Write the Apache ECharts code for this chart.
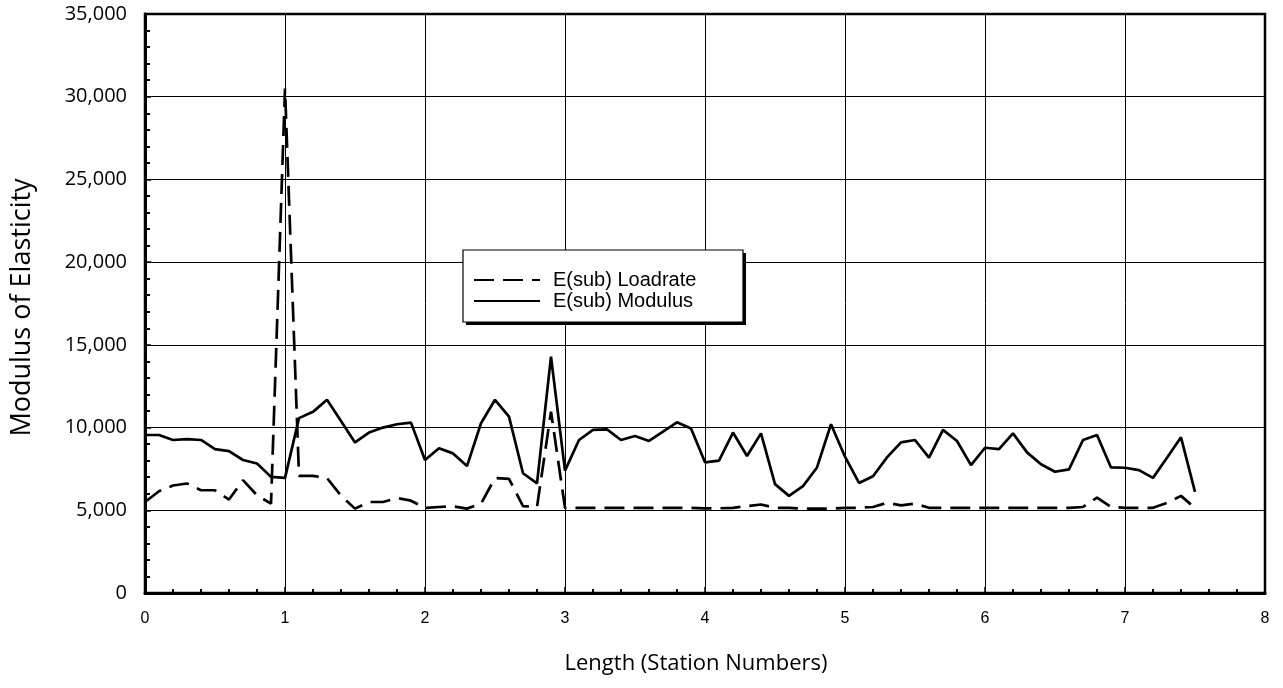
<!DOCTYPE html>
<html>
<head>
<meta charset="utf-8">
<script src="https://cdn.jsdelivr.net/npm/echarts@6/dist/echarts.min.js"></script>
<style>
  html, body { margin: 0; padding: 0; background: #fff; }
  #chart { width: 1283px; height: 688px; }
</style>
</head>
<body>
<div id="chart"></div>
<script>
// Station positions (Length, station numbers)
var station = [
  0.0, 0.1, 0.2, 0.3, 0.4, 0.5, 0.6, 0.7, 0.8, 0.9,
  1.0, 1.1, 1.2, 1.3, 1.4, 1.5, 1.6, 1.7, 1.8, 1.9,
  2.0, 2.1, 2.2, 2.3, 2.4, 2.5, 2.6, 2.7, 2.8, 2.9,
  3.0, 3.1, 3.2, 3.3, 3.4, 3.5, 3.6, 3.7, 3.8, 3.9,
  4.0, 4.1, 4.2, 4.3, 4.4, 4.5, 4.6, 4.7, 4.8, 4.9,
  5.0, 5.1, 5.2, 5.3, 5.4, 5.5, 5.6, 5.7, 5.8, 5.9,
  6.0, 6.1, 6.2, 6.3, 6.4, 6.5, 6.6, 6.7, 6.8, 6.9,
  7.0, 7.1, 7.2, 7.3, 7.4, 7.5
];

// E(sub) Loadrate (dashed)
var loadrate = [
  5500, 6150, 6500, 6620, 6210, 6210, 5650, 6820, 5910, 5400,
  30500, 7080, 7080, 6950, 5880, 5100, 5500, 5500, 5740, 5580,
  5140, 5200, 5240, 5100, 5400, 6950, 6900, 5250, 5200, 10960,
  5150, 5150, 5150, 5150, 5150, 5150, 5150, 5150, 5150, 5150,
  5120, 5120, 5150, 5250, 5350, 5150, 5150, 5100, 5100, 5100,
  5150, 5150, 5200, 5450, 5300, 5400, 5150, 5150, 5150, 5150,
  5150, 5150, 5150, 5150, 5150, 5150, 5150, 5200, 5770, 5200,
  5150, 5150, 5150, 5450, 5870, 5140
];

// E(sub) Modulus (solid)
var modulus = [
  9550, 9550, 9250, 9300, 9250, 8700, 8580, 8040, 7830, 7020,
  6960, 10570, 10950, 11680, 10400, 9100, 9700, 10000, 10200, 10300,
  8040, 8750, 8440, 7670, 10260, 11680, 10660, 7240, 6630, 14290,
  7400, 9250, 9860, 9890, 9250, 9490, 9190, 9760, 10320, 9940,
  7900, 8000, 9700, 8280, 9650, 6580, 5870, 6460, 7590, 10200,
  8240, 6650, 7060, 8200, 9110, 9250, 8180, 9860, 9190, 7730,
  8780, 8700, 9650, 8500, 7780, 7330, 7470, 9250, 9550, 7590,
  7570, 7430, 6960, 8180, 9410, 6110
];

var seriesNames = ['E(sub) Loadrate', 'E(sub) Modulus'];
var xTitle = 'Length (Station Numbers)';
var yTitle = 'Modulus of Elasticity';

function pairs(xs, ys) {
  var out = [];
  for (var i = 0; i < xs.length; i++) out.push([xs[i], ys[i]]);
  return out;
}
function commas(v) {
  return String(v).replace(/\B(?=(\d{3})+(?!\d))/g, ',');
}

var chart = echarts.init(document.getElementById('chart'), null, { renderer: 'canvas' });
chart.setOption({
  animation: false,
  backgroundColor: '#ffffff',
  grid: {
    left: 145, right: 18, top: 14, bottom: 95,
    show: true, borderColor: '#000', borderWidth: 2.5, backgroundColor: 'transparent'
  },
  graphic: [
    { type: 'rect', z: 20, shape: { x: 466, y: 253, width: 280, height: 72 },
      style: { fill: '#000', stroke: null } },
    { type: 'rect', z: 21, shape: { x: 463, y: 250, width: 280, height: 72 },
      style: { fill: '#fff', stroke: '#000', lineWidth: 1.2 } }
  ],
  legend: {
    orient: 'vertical',
    left: 473, top: 270,
    z: 30,
    data: seriesNames,
    padding: 0,
    itemWidth: 66,
    itemHeight: 14,
    itemGap: 1,
    itemStyle: { opacity: 0 },
    textStyle: {
      fontFamily: 'Liberation Sans, Arial, sans-serif',
      fontSize: 20,
      lineHeight: 20,
      color: '#000',
      padding: [0, 0, 0, 8]
    }
  },
  xAxis: {
    type: 'value',
    min: 0, max: 8, interval: 1,
    name: xTitle,
    nameLocation: 'middle',
    nameGap: 60,
    nameTextStyle: { fontFamily: 'Open Sans, sans-serif', fontSize: 22, color: '#000', padding: [0, 18, 0, 0] },
    axisLine: { show: true, onZero: false, lineStyle: { color: '#000', width: 3 } },
    axisTick: { show: true, inside: true, length: 6, lineStyle: { color: '#000', width: 1.5 } },
    minorTick: { show: true, splitNumber: 5, length: 4, lineStyle: { color: '#000', width: 2 } },
    axisLabel: { margin: 18, fontFamily: 'Liberation Sans, Arial, sans-serif', fontSize: 16, color: '#000' },
    splitLine: { show: true, lineStyle: { color: '#000', width: 1 } }
  },
  yAxis: {
    type: 'value',
    min: 0, max: 35000, interval: 5000,
    name: yTitle,
    nameLocation: 'middle',
    nameGap: 109,
    nameTextStyle: { fontFamily: 'Open Sans, sans-serif', fontSize: 27, color: '#000', padding: [0, 8, 0, 0] },
    axisLine: { show: true, onZero: false, lineStyle: { color: '#000', width: 3 } },
    axisTick: { show: true, inside: true, length: 6, lineStyle: { color: '#000', width: 1.5 } },
    minorTick: { show: true, splitNumber: 5, length: 5, lineStyle: { color: '#000', width: 2 } },
    axisLabel: {
      margin: 18,
      fontFamily: 'Open Sans, sans-serif', fontSize: 20, color: '#000',
      formatter: function (v) { return commas(v); }
    },
    splitLine: { show: true, lineStyle: { color: '#000', width: 1 } }
  },
  series: [
    {
      name: seriesNames[0],
      type: 'line',
      data: pairs(station, loadrate),
      symbol: 'none',
      showSymbol: false,
      lineStyle: { color: '#000', width: 2.7, type: [20, 9] },
      itemStyle: { color: '#000' },
      z: 3
    },
    {
      name: seriesNames[1],
      type: 'line',
      data: pairs(station, modulus),
      symbol: 'none',
      showSymbol: false,
      lineStyle: { color: '#000', width: 2.7, type: 'solid' },
      itemStyle: { color: '#000' },
      z: 4
    }
  ]
});
</script>
</body>
</html>
